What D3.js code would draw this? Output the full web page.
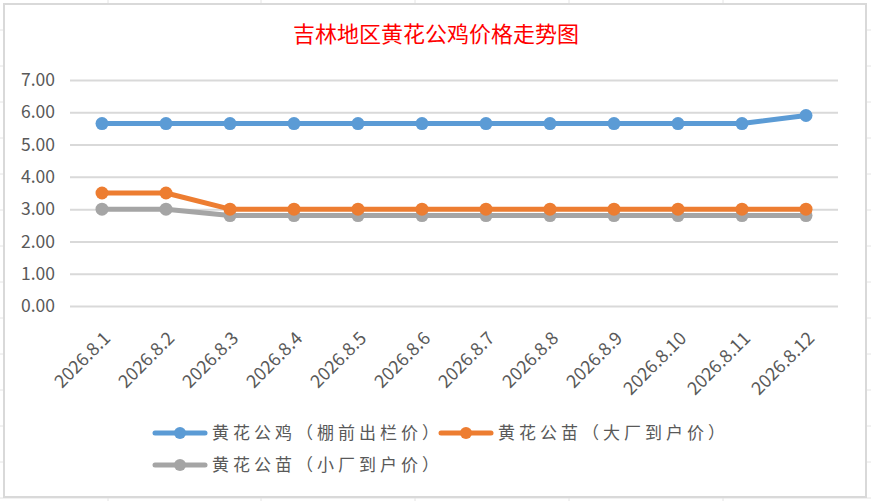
<!DOCTYPE html>
<html>
<head>
<meta charset="utf-8">
<script src="https://cdn.jsdelivr.net/npm/d3@7"></script>
<style>
  body { margin: 0; background: #fff; }
  svg { display: block; }
</style>
</head>
<body>
<svg id="chart"></svg>
<script>
var dates = ["2026.8.1", "2026.8.2", "2026.8.3", "2026.8.4", "2026.8.5", "2026.8.6",
  "2026.8.7", "2026.8.8", "2026.8.9", "2026.8.10", "2026.8.11", "2026.8.12"];
var seriesNames = ["黄花公鸡（棚前出栏价）", "黄花公苗（大厂到户价）", "黄花公苗（小厂到户价）"];
var roosterPrice = [5.65, 5.65, 5.65, 5.65, 5.65, 5.65, 5.65, 5.65, 5.65, 5.65, 5.65, 5.9];
var bigChickPrice = [3.5, 3.5, 3.0, 3.0, 3.0, 3.0, 3.0, 3.0, 3.0, 3.0, 3.0, 3.0];
var smallChickPrice = [3.0, 3.0, 2.8, 2.8, 2.8, 2.8, 2.8, 2.8, 2.8, 2.8, 2.8, 2.8];
var yTicks = [0, 1, 2, 3, 4, 5, 6, 7];
var colors = ["#5b9bd5", "#ed7d31", "#a5a5a5"];

var W = 871, H = 501;
var svg = d3.select("#chart").attr("width", W).attr("height", H);
var font = "'Noto Sans CJK SC', 'Noto Sans', sans-serif";

// faint spreadsheet cells behind the chart
var bg = svg.append("g");
d3.range(-6, 501, 36).forEach(function(y) {
  bg.append("line").attr("x1", 0).attr("x2", W).attr("y1", y).attr("y2", y)
    .style("stroke", "#e4e4e4").style("stroke-width", 1);
});
[108, 261, 415, 569, 723].forEach(function(x) {
  bg.append("line").attr("x1", x).attr("x2", x).attr("y1", 0).attr("y2", H)
    .style("stroke", "#e4e4e4").style("stroke-width", 1);
});

// chart box
svg.append("rect")
  .attr("x", 4).attr("y", 4).attr("width", 862).attr("height", 493)
  .style("fill", "#fff").style("stroke", "#d9d9d9").style("stroke-width", 2);

svg.append("text")
  .attr("x", 436).attr("y", 42)
  .style("font-family", font)
  .style("font-size", "22px")
  .style("fill", "#ff0000")
  .style("text-anchor", "middle")
  .text("吉林地区黄花公鸡价格走势图");

var margin = { left: 70, right: 33, top: 80, bottom: 195 };
var width = W - margin.left - margin.right,
  height = H - margin.top - margin.bottom;

var canvas = svg.append("g")
  .attr("transform", "translate(" + margin.left + "," + margin.top + ")");

var xScale = d3.scaleBand().domain(dates).range([0, width]);
var yScale = d3.scaleLinear().domain([0, 7]).range([height, 0]);

var yAxis = d3.axisLeft(yScale)
  .tickValues(yTicks)
  .tickSize(-width)
  .tickPadding(15)
  .tickFormat(d3.format(".2f"));

var gy = canvas.append("g").attr("class", "y axis").call(yAxis);
gy.select(".domain").remove();
gy.selectAll(".tick line").style("stroke", "#d9d9d9").style("stroke-width", 2);
gy.selectAll(".tick text")
  .style("font-family", font)
  .style("font-size", "17.5px")
  .style("fill", "#595959");

var xAxis = d3.axisBottom(xScale).tickSize(0).tickPadding(0);
var gx = canvas.append("g")
  .attr("class", "x axis")
  .attr("transform", "translate(0," + height + ")")
  .call(xAxis);
gx.select(".domain").remove();
gx.selectAll(".tick text")
  .style("font-family", font)
  .style("font-size", "18px")
  .style("fill", "#595959")
  .style("text-anchor", "end")
  .attr("dy", "0.35em")
  .attr("transform", "translate(5,29) rotate(-45)");

var allSeries = [roosterPrice, bigChickPrice, smallChickPrice];
var line = d3.line()
  .x(function(d, i) { return xScale(dates[i]) + xScale.bandwidth() / 2; })
  .y(function(d) { return yScale(d); });

// draw in reverse so the blue series sits on top like the original
[2, 1, 0].forEach(function(k) {
  var g = canvas.append("g");
  g.append("path")
    .datum(allSeries[k])
    .attr("d", line)
    .style("fill", "none")
    .style("stroke", colors[k])
    .style("stroke-width", 5)
    .style("stroke-linejoin", "round");
  g.selectAll("circle")
    .data(allSeries[k])
    .enter().append("circle")
    .attr("cx", function(d, i) { return xScale(dates[i]) + xScale.bandwidth() / 2; })
    .attr("cy", function(d) { return yScale(d); })
    .attr("r", 6.5)
    .style("fill", colors[k]);
});

// legend
var legendPos = [[155, 433], [441, 433], [155, 465]];
seriesNames.forEach(function(name, k) {
  var lg = svg.append("g")
    .attr("transform", "translate(" + legendPos[k][0] + "," + legendPos[k][1] + ")");
  lg.append("line")
    .attr("x1", 0).attr("x2", 50).attr("y1", 0).attr("y2", 0)
    .style("stroke", colors[k]).style("stroke-width", 5)
    .style("stroke-linecap", "round");
  lg.append("circle").attr("cx", 25).attr("cy", 0).attr("r", 6)
    .style("fill", colors[k]);
  lg.append("text")
    .attr("x", 57).attr("y", 0).attr("dy", "0.35em")
    .style("font-family", font)
    .style("font-size", "17px")
    .style("letter-spacing", "4px")
    .style("fill", "#595959")
    .text(name);
});
</script>
</body>
</html>
